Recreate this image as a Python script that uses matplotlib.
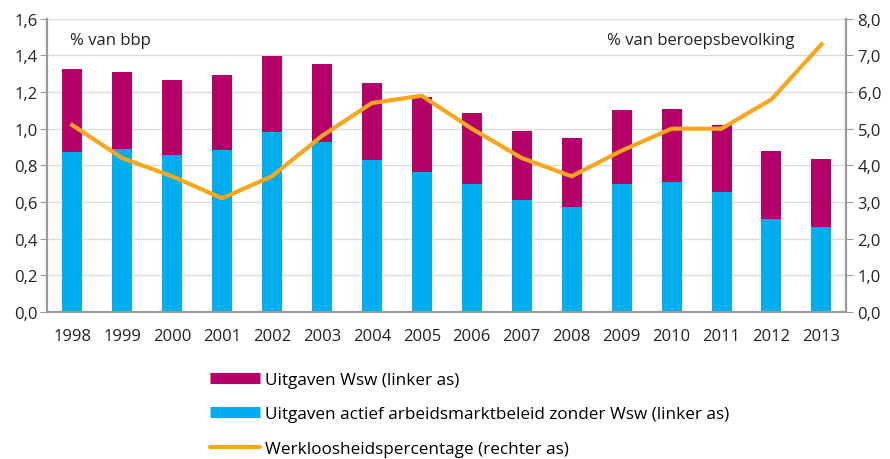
import matplotlib
matplotlib.use('Agg')
import matplotlib.pyplot as plt
from matplotlib.lines import Line2D
import numpy as np

years = ['1998', '1999', '2000', '2001', '2002', '2003', '2004', '2005',
         '2006', '2007', '2008', '2009', '2010', '2011', '2012', '2013']
# Uitgaven actief arbeidsmarktbeleid zonder Wsw (% bbp)
aamb = [0.873, 0.887, 0.858, 0.885, 0.982, 0.927, 0.831, 0.765,
        0.696, 0.609, 0.571, 0.698, 0.711, 0.655, 0.504, 0.462]
# totaal incl. Wsw (% bbp)
totaal = [1.327, 1.309, 1.267, 1.293, 1.398, 1.351, 1.249, 1.173,
          1.085, 0.987, 0.949, 1.104, 1.107, 1.022, 0.876, 0.833]
wsw = [t - a for t, a in zip(totaal, aamb)]
# Werkloosheidspercentage (% beroepsbevolking)
werkloosheid = [5.1, 4.2, 3.7, 3.1, 3.7, 4.8, 5.7, 5.9,
                5.0, 4.2, 3.7, 4.4, 5.0, 5.0, 5.8, 7.3]

left_ticks = [0, 0.2, 0.4, 0.6, 0.8, 1.0, 1.2, 1.4, 1.6]
right_ticks = [0, 1, 2, 3, 4, 5, 6, 7, 8]

MAGENTA = '#b5006a'
BLUE = '#00aeef'
ORANGE = '#f9a61b'
AXIS = '#9a9a9a'
TEXT = '#222222'

plt.rcParams['font.family'] = ['Open Sans', 'DejaVu Sans']
plt.rcParams['font.size'] = 12

fig = plt.figure(figsize=(8.9, 4.6), dpi=100)
ax = fig.add_axes([0.053, 0.320, 0.898, 0.637])
ax2 = ax.twinx()

x = np.arange(len(years))
ax.bar(x, aamb, width=0.4, color=BLUE, zorder=2)
ax.bar(x, wsw, width=0.4, bottom=aamb, color=MAGENTA, zorder=2)
ax2.plot(x, werkloosheid, color=ORANGE, linewidth=3, zorder=3)

ax.set_xlim(-0.5, len(years) - 0.5)
ax.set_ylim(0, 1.6)
ax2.set_ylim(0, 8)
ax.set_yticks(left_ticks)
ax.set_yticklabels([f'{v:.1f}'.replace('.', ',') for v in left_ticks])
ax2.set_yticks(right_ticks)
ax2.set_yticklabels([f'{v:.1f}'.replace('.', ',') for v in right_ticks])
ax.set_xticks(x)
ax.set_xticklabels(years)

ax.grid(axis='y', color='#dcdcdc', linewidth=1, zorder=0)
ax.set_axisbelow(True)

for a in (ax, ax2):
    a.spines['top'].set_visible(False)
    for side in ('left', 'right', 'bottom'):
        a.spines[side].set_color(AXIS)
        a.spines[side].set_linewidth(1.5)
ax.tick_params(axis='y', length=5, color=AXIS, pad=2, labelcolor=TEXT)
ax2.tick_params(axis='y', length=5, color=AXIS, pad=3, labelcolor=TEXT)
ax.tick_params(axis='x', length=0, pad=12, labelcolor=TEXT)

ax.text(0.029, 0.955, '% van bbp', transform=ax.transAxes, ha='left', va='top',
        color=TEXT)
ax.text(0.935, 0.955, '% van beroepsbevolking', transform=ax.transAxes,
        ha='right', va='top', color=TEXT)

handles = [
    Line2D([], [], color=MAGENTA, linewidth=8, solid_capstyle='butt'),
    Line2D([], [], color=BLUE, linewidth=8, solid_capstyle='butt'),
    Line2D([], [], color=ORANGE, linewidth=3, solid_capstyle='round'),
]
labels = ['Uitgaven Wsw (linker as)',
          'Uitgaven actief arbeidsmarktbeleid zonder Wsw (linker as)',
          'Werkloosheidspercentage (rechter as)']
fig.legend(handles, labels, loc='upper left', bbox_to_anchor=(0.236, 0.19),
           frameon=False, fontsize=12.3, handlelength=2.9, handletextpad=0.3,
           labelspacing=1.1, borderaxespad=0, borderpad=0)

fig.savefig('out.png', dpi=100)
